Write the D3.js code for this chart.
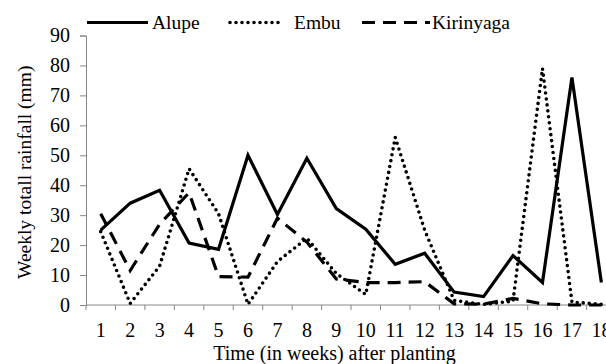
<!DOCTYPE html>
<html>
<head>
<meta charset="utf-8">
<script src="https://cdn.jsdelivr.net/npm/d3@7"></script>
<style>
  body { margin: 0; background: #fff; }
  svg { display: block; overflow: hidden; font-family: "Liberation Serif", "Times New Roman", serif; }
</style>
</head>
<body>
<svg id="chart" width="606" height="364"></svg>
<script>
const weeks = d3.range(1, 19);
const alupe = [25, 34, 38.3, 20.7, 18.6, 50, 30.2, 49, 32.2, 25.3, 13.6, 17.3, 4.3, 2.8, 16.5, 7.5, 76, 7.5];
const embu = [24.5, 0.5, 13, 45.5, 30.5, 0.2, 14.5, 22.3, 10.5, 3.5, 56, 25, 1.5, 0.2, 1.3, 79, 1, 0.2];
const kirinyaga = [30.5, 11.5, 27, 37.5, 9.5, 9.3, 29, 21, 8.7, 7.5, 7.5, 7.8, 0.4, 0.3, 2.2, 0.4, 0, 0];
const yTicks = d3.range(0, 100, 10);

const series = [
    { name: "Alupe", values: alupe, dash: null, cap: "butt" },
    { name: "Embu", values: embu, dash: "0,6", cap: "round" },
    { name: "Kirinyaga", values: kirinyaga, dash: "13,8", cap: "butt" }
];

const svg = d3.select("#chart");
const axisColor = "#868686";

const x = d3.scaleBand()
    .domain(weeks)
    .range([86, 86 + 18 * 29.45]);

const y = d3.scaleLinear()
    .domain([0, 90])
    .range([305, 35.5]);

// y axis
const yAxis = svg.append("g")
    .attr("transform", `translate(${x.range()[0]},0)`)
    .call(d3.axisLeft(y).tickValues(yTicks).tickSize(6).tickPadding(10));
yAxis.select(".domain").attr("stroke", axisColor);
yAxis.selectAll(".tick line").attr("stroke", axisColor);
yAxis.selectAll("text").attr("font-size", 20).attr("fill", "#000").attr("font-family", "Liberation Serif");

// x axis: line, ticks at band edges, labels at centres
const xAxis = svg.append("g").attr("transform", `translate(0,${y(0)})`);
xAxis.append("line")
    .attr("x1", x.range()[0]).attr("x2", x.range()[1])
    .attr("stroke", axisColor);
xAxis.selectAll(".edge")
    .data(weeks.concat([19]))
    .join("line")
    .attr("x1", d => x.range()[0] + (d - 1) * x.step())
    .attr("x2", d => x.range()[0] + (d - 1) * x.step())
    .attr("y1", 0).attr("y2", 5)
    .attr("stroke", axisColor);
xAxis.selectAll(".lab")
    .data(weeks)
    .join("text")
    .attr("x", d => x(d) + x.bandwidth() / 2)
    .attr("y", 31.5)
    .attr("text-anchor", "middle")
    .attr("font-size", 20)
    .text(d => d);

// axis titles
svg.append("text")
    .attr("x", 334.5)
    .attr("y", 359.5)
    .attr("text-anchor", "middle")
    .attr("font-size", 20)
    .text("Time (in weeks) after planting");

svg.append("text")
    .attr("transform", `translate(31,${(y(0) + y(90)) / 2 + 2}) rotate(-90)`)
    .attr("text-anchor", "middle")
    .attr("font-size", 19.5)
    .text("Weekly totall rainfall (mm)");

// lines
const line = d3.line()
    .x((d, i) => x(weeks[i]) + x.bandwidth() / 2)
    .y(d => y(d));

series.forEach(s => {
    svg.append("path")
        .datum(s.values)
        .attr("d", line)
        .attr("fill", "none")
        .attr("stroke", "#000")
        .attr("stroke-width", s.cap === "round" ? 3.6 : 3.2)
        .attr("stroke-linecap", s.cap)
        .attr("stroke-dasharray", s.dash);
});

// legend
const legendPos = [
    { x1: 87, x2: 148, tx: 152 },
    { x1: 230, x2: 283, tx: 294 },
    { x1: 362, x2: 430, tx: 432 }
];
series.forEach((s, i) => {
    const p = legendPos[i];
    svg.append("line")
        .attr("x1", p.x1).attr("x2", p.x2)
        .attr("y1", 22.5).attr("y2", 22.5)
        .attr("stroke", "#000")
        .attr("stroke-width", s.cap === "round" ? 3.6 : 3.2)
        .attr("stroke-linecap", s.cap)
        .attr("stroke-dasharray", s.dash);
    svg.append("text")
        .attr("x", p.tx)
        .attr("y", 28.5)
        .attr("font-size", 19.5)
        .text(s.name);
});
</script>
</body>
</html>
